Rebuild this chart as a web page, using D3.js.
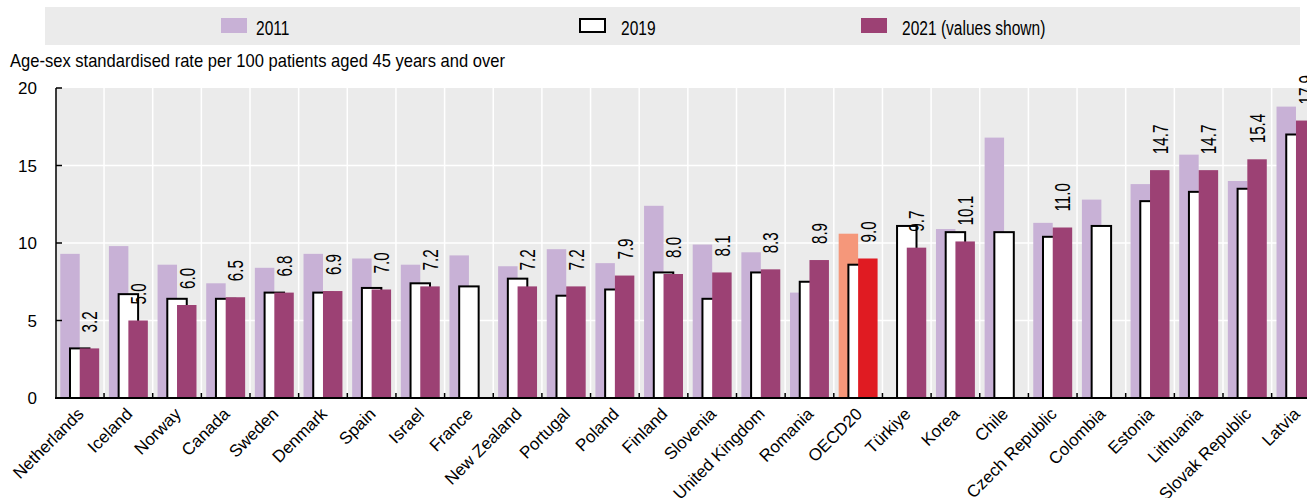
<!DOCTYPE html>
<html>
<head>
<meta charset="utf-8">
<script src="https://cdn.jsdelivr.net/npm/d3@7"></script>
<style>
  body { margin: 0; background: #fff; }
  svg { display: block; }
  text { font-family: "Liberation Sans", Arial, sans-serif; fill: #000; }
</style>
</head>
<body>
<svg id="chart" width="1307" height="498"></svg>
<script>
// Age-sex standardised rate per 100 patients aged 45 years and over
const categories = ["Netherlands", "Iceland", "Norway", "Canada", "Sweden", "Denmark", "Spain", "Israel",
  "France", "New Zealand", "Portugal", "Poland", "Finland", "Slovenia", "United Kingdom", "Romania",
  "OECD20", "Türkiye", "Korea", "Chile", "Czech Republic", "Colombia", "Estonia", "Lithuania",
  "Slovak Republic", "Latvia"];
const values2011 = [9.3, 9.8, 8.6, 7.4, 8.4, 9.3, 9.0, 8.6, 9.2, 8.5, 9.6, 8.7, 12.4, 9.9, 9.4, 6.8,
  10.6, null, 10.9, 16.8, 11.3, 12.8, 13.8, 15.7, 14.0, 18.8];
const values2019 = [3.2, 6.7, 6.4, 6.4, 6.8, 6.8, 7.1, 7.4, 7.2, 7.7, 6.6, 7.0, 8.1, 6.4, 8.1, 7.5,
  8.6, 11.1, 10.7, 10.7, 10.4, 11.1, 12.7, 13.3, 13.5, 17.0];
const values2021 = [3.2, 5.0, 6.0, 6.5, 6.8, 6.9, 7.0, 7.2, null, 7.2, 7.2, 7.9, 8.0, 8.1, 8.3, 8.9,
  9.0, 9.7, 10.1, null, 11.0, null, 14.7, 14.7, 15.4, 17.9];
const yTicks = [0, 5, 10, 15, 20];
const legendLabels = ["2011", "2019", "2021 (values shown)"];
const axisTitle = "Age-sex standardised rate per 100 patients aged 45 years and over";
const highlightCategory = "OECD20";

const colors = {
  c2011: "#c8b1d6", c2021: "#9c4174",
  h2011: "#f5977a", h2021: "#e01b22",
  panel: "#ebebeb"
};

const svg = d3.select("#chart");

const plot = { left: 55.4, right: 1320.3, top: 88, bottom: 398 };

const x = d3.scaleBand().domain(categories).range([plot.left, plot.right]).paddingInner(0).paddingOuter(0);
const y = d3.scaleLinear().domain([0, 20]).range([plot.bottom, plot.top]);
const bw = x.bandwidth();
const barW = bw * 0.4;
const offsets = { v2011: bw * 0.1, v2019: bw * 0.3, v2021: bw * 0.5 };

// Legend band
svg.append("rect").attr("x", 45).attr("y", 7).attr("width", 1255).attr("height", 38).attr("fill", colors.panel);
const legendItems = [
  { label: legendLabels[0], sx: 221, tx: 256, fill: colors.c2011, stroke: null },
  { label: legendLabels[1], sx: 580, tx: 621, fill: "#fff", stroke: "#000" },
  { label: legendLabels[2], sx: 861, tx: 902, fill: colors.c2021, stroke: null }
];
legendItems.forEach(d => {
  svg.append("rect")
    .attr("x", d.sx).attr("y", d.stroke ? 19 : 18)
    .attr("width", d.stroke ? 25 : 26).attr("height", d.stroke ? 13 : 15)
    .attr("fill", d.fill)
    .attr("stroke", d.stroke).attr("stroke-width", d.stroke ? 2 : 0);
  svg.append("text")
    .attr("transform", `translate(${d.tx},34.5) scale(0.74,1)`)
    .attr("font-size", 21)
    .text(d.label);
});

// Axis title, set in a condensed width
const title = svg.append("text")
  .attr("font-size", 17.7)
  .text(axisTitle);
const titleLen = title.node().getComputedTextLength();
title.attr("transform", `translate(10,67) scale(${495 / titleLen},1)`);

// Plot panel and grid
svg.append("rect")
  .attr("x", plot.left).attr("y", plot.top)
  .attr("width", plot.right - plot.left).attr("height", plot.bottom - plot.top)
  .attr("fill", colors.panel);

svg.append("g").selectAll("line").data(yTicks.filter(t => t > 0 && t < 20)).join("line")
  .attr("x1", plot.left).attr("x2", plot.right)
  .attr("y1", d => y(d)).attr("y2", d => y(d))
  .attr("stroke", "#fff").attr("stroke-width", 1.5);

svg.append("g").selectAll("line").data(categories.slice(1)).join("line")
  .attr("x1", d => x(d)).attr("x2", d => x(d))
  .attr("y1", plot.top).attr("y2", plot.bottom)
  .attr("stroke", "#fff").attr("stroke-width", 1.5);

// Bars
const rows = categories.map((c, i) => ({
  c, v2011: values2011[i], v2019: values2019[i], v2021: values2021[i], hi: c === highlightCategory
}));

const bars = svg.append("g");
rows.forEach(r => {
  if (r.v2011 != null) {
    bars.append("rect")
      .attr("x", x(r.c) + offsets.v2011).attr("width", barW)
      .attr("y", y(r.v2011)).attr("height", y(0) - y(r.v2011))
      .attr("fill", r.hi ? colors.h2011 : colors.c2011);
  }
  if (r.v2019 != null) {
    bars.append("rect")
      .attr("x", x(r.c) + offsets.v2019).attr("width", barW)
      .attr("y", y(r.v2019)).attr("height", y(0) - y(r.v2019))
      .attr("fill", "#fff").attr("stroke", "#000").attr("stroke-width", 2);
  }
  if (r.v2021 != null) {
    bars.append("rect")
      .attr("x", x(r.c) + offsets.v2021).attr("width", barW)
      .attr("y", y(r.v2021)).attr("height", y(0) - y(r.v2021))
      .attr("fill", r.hi ? colors.h2021 : colors.c2021);
  }
});

// 2021 value labels
svg.append("g").selectAll("text").data(rows.filter(r => r.v2021 != null)).join("text")
  .attr("transform", r => `translate(${x(r.c) + offsets.v2021 + barW / 2},${y(r.v2021) - 16}) rotate(-90) scale(0.69,1)`)
  .attr("dy", "0.36em")
  .attr("font-size", 22)
  .text(r => d3.format(".1f")(r.v2021));

// Y axis
const yAxis = svg.append("g");
yAxis.append("line")
  .attr("x1", 56).attr("x2", 56).attr("y1", plot.top).attr("y2", plot.bottom)
  .attr("stroke", "#000").attr("stroke-width", 1.5);
yAxis.selectAll("line.tick").data(yTicks).join("line").attr("class", "tick")
  .attr("x1", 56).attr("x2", 62).attr("y1", d => y(d)).attr("y2", d => y(d))
  .attr("stroke", "#000").attr("stroke-width", 1.5);
yAxis.selectAll("text").data(yTicks).join("text")
  .attr("x", 37).attr("y", d => y(d)).attr("dy", "0.36em")
  .attr("text-anchor", "end").attr("font-size", 17)
  .text(d => d);

// X axis
const xAxis = svg.append("g");
xAxis.append("line")
  .attr("x1", 55).attr("x2", plot.right).attr("y1", plot.bottom).attr("y2", plot.bottom)
  .attr("stroke", "#000").attr("stroke-width", 2);
xAxis.selectAll("line.tick").data(categories.slice(1)).join("line").attr("class", "tick")
  .attr("x1", d => x(d)).attr("x2", d => x(d))
  .attr("y1", plot.bottom - 5).attr("y2", plot.bottom)
  .attr("stroke", "#000").attr("stroke-width", 1.5);
xAxis.selectAll("text").data(categories).join("text")
  .attr("transform", d => `translate(${x(d) + bw / 2 + 5},415) rotate(-45)`)
  .attr("text-anchor", "end").attr("font-size", 17)
  .text(d => d);
</script>
</body>
</html>
